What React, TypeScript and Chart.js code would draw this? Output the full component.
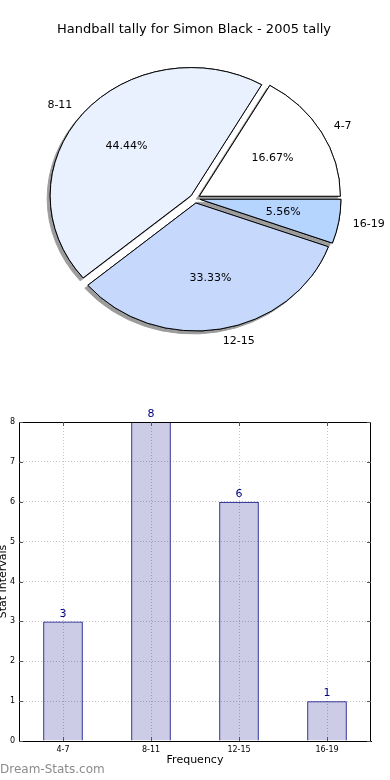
import React, { useEffect, useRef } from 'react';
import { Chart, registerables } from 'chart.js';

Chart.register(...registerables);

const TITLE = 'Handball tally for Simon Black - 2005 tally';
const CATEGORIES = ['4-7', '8-11', '12-15', '16-19'];
const FREQUENCIES = [3, 8, 6, 1];
const PIE_COLORS = ['#ffffff', '#e9f0fe', '#c6d9fd', '#b5d4fe'];
const Y_TICKS = [0, 1, 2, 3, 4, 5, 6, 7, 8];
const X_TITLE = 'Frequency';
const Y_TITLE = 'Stat Intervals';
const WATERMARK = 'Dream-Stats.com';

const FONT = '"DejaVu Sans", sans-serif';
const PIE_RADIUS = 141;
const Y_SQUASH = 128 / 141;
const EXPLODE = 5;

const piePlugin = {
  id: 'piePlugin',
  beforeDatasetsDraw(chart: any) {
    const ctx = chart.ctx as CanvasRenderingContext2D;
    const arcs = chart.getDatasetMeta(0).data as any[];
    if (!arcs.length) return false;
    const cx = arcs[0].x;
    const cy = arcs[0].y;
    const drawAll = (shadow: boolean) => {
      for (const el of arcs) {
        const mid = (el.startAngle + el.endAngle) / 2;
        ctx.save();
        if (shadow) {
          ctx.shadowColor = '#9c9c9c';
          ctx.shadowOffsetX = -3;
          ctx.shadowOffsetY = 3;
          ctx.shadowBlur = 0;
        }
        ctx.translate(cx, cy);
        ctx.scale(1, Y_SQUASH);
        ctx.translate(-cx, -cy);
        ctx.translate(Math.cos(mid) * EXPLODE, Math.sin(mid) * EXPLODE);
        el.draw(ctx);
        ctx.restore();
      }
    };
    drawAll(true);
    drawAll(false);
    return false;
  },
  afterDraw(chart: any) {
    const ctx = chart.ctx as CanvasRenderingContext2D;
    const arcs = chart.getDatasetMeta(0).data as any[];
    const values = chart.data.datasets[0].data as number[];
    const labels = chart.data.labels as string[];
    const total = values.reduce((a, b) => a + b, 0);
    ctx.save();
    ctx.fillStyle = '#000';
    ctx.font = `13px ${FONT}`;
    ctx.textAlign = 'center';
    ctx.textBaseline = 'middle';
    ctx.fillText(TITLE, 194, 30);
    ctx.font = `11px ${FONT}`;
    arcs.forEach((el, i) => {
      const cx = el.x;
      const cy = el.y;
      const R = el.outerRadius;
      const mid = (el.startAngle + el.endAngle) / 2;
      const c = Math.cos(mid);
      const s = Math.sin(mid);
      const bx = cx + c * EXPLODE;
      const by = cy + s * EXPLODE;
      const lx = bx + c * R * 1.1;
      const ly = cy + (by + s * R * 1.1 - cy) * Y_SQUASH;
      ctx.textAlign = c > 0 ? 'left' : 'right';
      ctx.fillText(labels[i], lx, ly);
      const px = bx + c * R * 0.6;
      const py = cy + (by + s * R * 0.6 - cy) * Y_SQUASH;
      ctx.textAlign = 'center';
      ctx.fillText(((values[i] / total) * 100).toFixed(2) + '%', px, py);
    });
    ctx.restore();
  },
};

const barPlugin = {
  id: 'barPlugin',
  afterDraw(chart: any) {
    const ctx = chart.ctx as CanvasRenderingContext2D;
    const { left, right, top, bottom } = chart.chartArea;
    const xScale = chart.scales.x;
    const yScale = chart.scales.y;
    ctx.save();
    ctx.strokeStyle = '#000';
    ctx.lineWidth = 1;
    ctx.beginPath();
    ctx.moveTo(left, top + 0.5);
    ctx.lineTo(right, top + 0.5);
    ctx.moveTo(right - 0.5, top);
    ctx.lineTo(right - 0.5, bottom);
    ctx.stroke();
    // inward tick marks
    ctx.strokeStyle = '#555';
    ctx.beginPath();
    yScale.ticks.forEach((t: any) => {
      const y = Math.round(yScale.getPixelForValue(t.value)) + 0.5;
      ctx.moveTo(left, y);
      ctx.lineTo(left + 4, y);
      ctx.moveTo(right, y);
      ctx.lineTo(right - 4, y);
    });
    CATEGORIES.forEach((_, i) => {
      const x = Math.round(xScale.getPixelForValue(i)) + 0.5;
      ctx.moveTo(x, bottom);
      ctx.lineTo(x, bottom - 4);
      ctx.moveTo(x, top);
      ctx.lineTo(x, top + 4);
    });
    ctx.stroke();
    // value labels
    const bars = chart.getDatasetMeta(0).data as any[];
    const values = chart.data.datasets[0].data as number[];
    ctx.fillStyle = '#000080';
    ctx.font = `11px ${FONT}`;
    ctx.textAlign = 'center';
    ctx.textBaseline = 'bottom';
    bars.forEach((b, i) => {
      ctx.fillText(String(values[i]), b.x, b.y - 2);
    });
    // axis titles
    ctx.fillStyle = '#000';
    ctx.textBaseline = 'middle';
    ctx.fillText(X_TITLE, (left + right) / 2, 369);
    ctx.save();
    ctx.translate(3, (top + bottom) / 2);
    ctx.rotate(-Math.PI / 2);
    ctx.fillText(Y_TITLE, 0, 0);
    ctx.restore();
    // watermark
    ctx.fillStyle = '#8c8c8c';
    ctx.font = `12px ${FONT}`;
    ctx.textAlign = 'left';
    ctx.fillText(WATERMARK, 0, 379);
    ctx.restore();
  },
};

export default function App() {
  const pieRef = useRef<HTMLCanvasElement>(null);
  const barRef = useRef<HTMLCanvasElement>(null);

  useEffect(() => {
    const order = CATEGORIES.map((_, i) => CATEGORIES.length - 1 - i);
    const pie = new Chart(pieRef.current!, {
      type: 'pie',
      data: {
        labels: order.map((i) => CATEGORIES[i]),
        datasets: [
          {
            data: order.map((i) => FREQUENCIES[i]),
            backgroundColor: order.map((i) => PIE_COLORS[i]),
            borderColor: '#000',
            borderWidth: 1,
            borderJoinStyle: 'miter',
            borderAlign: 'center',
            offset: 0,
            radius: PIE_RADIUS,
            rotation: 90,
          } as any,
        ],
      },
      options: {
        animation: false,
        responsive: false,
        events: [],
        rotation: 90,
        radius: PIE_RADIUS,
        layout: { padding: 0 },
        plugins: { legend: { display: false }, tooltip: { enabled: false }, title: { display: false } },
      } as any,
      plugins: [piePlugin],
    });

    const gridColor = '#c4c4c4';
    const bar = new Chart(barRef.current!, {
      type: 'bar',
      data: {
        labels: CATEGORIES,
        datasets: [
          {
            data: FREQUENCIES,
            backgroundColor: 'rgba(0,0,128,0.2)',
            borderColor: '#000080',
            borderWidth: 1,
            barPercentage: 0.45,
            categoryPercentage: 1,
          },
        ],
      },
      options: {
        animation: false,
        responsive: false,
        events: [],
        layout: { padding: { top: 31, right: 19, left: 0, bottom: 0 } },
        plugins: { legend: { display: false }, tooltip: { enabled: false } },
        scales: {
          x: {
            offset: true,
            grid: { offset: false, color: gridColor, lineWidth: 1, drawTicks: false },
            border: { display: true, color: '#000', width: 1, dash: [1, 2] },
            ticks: { font: { size: 8, family: FONT }, color: '#000', padding: 4, maxRotation: 0 },
            afterFit: (s: any) => {
              s.height = 40;
            },
          },
          y: {
            min: 0,
            max: 8,
            afterBuildTicks: (s: any) => {
              s.ticks = Y_TICKS.map((v) => ({ value: v }));
            },
            grid: { color: gridColor, lineWidth: 1, drawTicks: false },
            border: { display: true, color: '#000', width: 1, dash: [1, 2] },
            ticks: { font: { size: 8, family: FONT }, color: '#000', padding: 4 },
            afterFit: (s: any) => {
              s.width = 19;
            },
          },
        },
      } as any,
      plugins: [barPlugin],
    });

    return () => {
      pie.destroy();
      bar.destroy();
    };
  }, []);

  return (
    <div style={{ position: 'fixed', left: 0, top: 0, width: 390, height: 780, background: '#fff' }}>
      <canvas
        ref={pieRef}
        width={390}
        height={397}
        style={{ position: 'absolute', left: 0, top: 0, width: 390, height: 397 }}
      />
      <canvas
        ref={barRef}
        width={390}
        height={390}
        style={{ position: 'absolute', left: 0, top: 391, width: 390, height: 390 }}
      />
    </div>
  );
}
